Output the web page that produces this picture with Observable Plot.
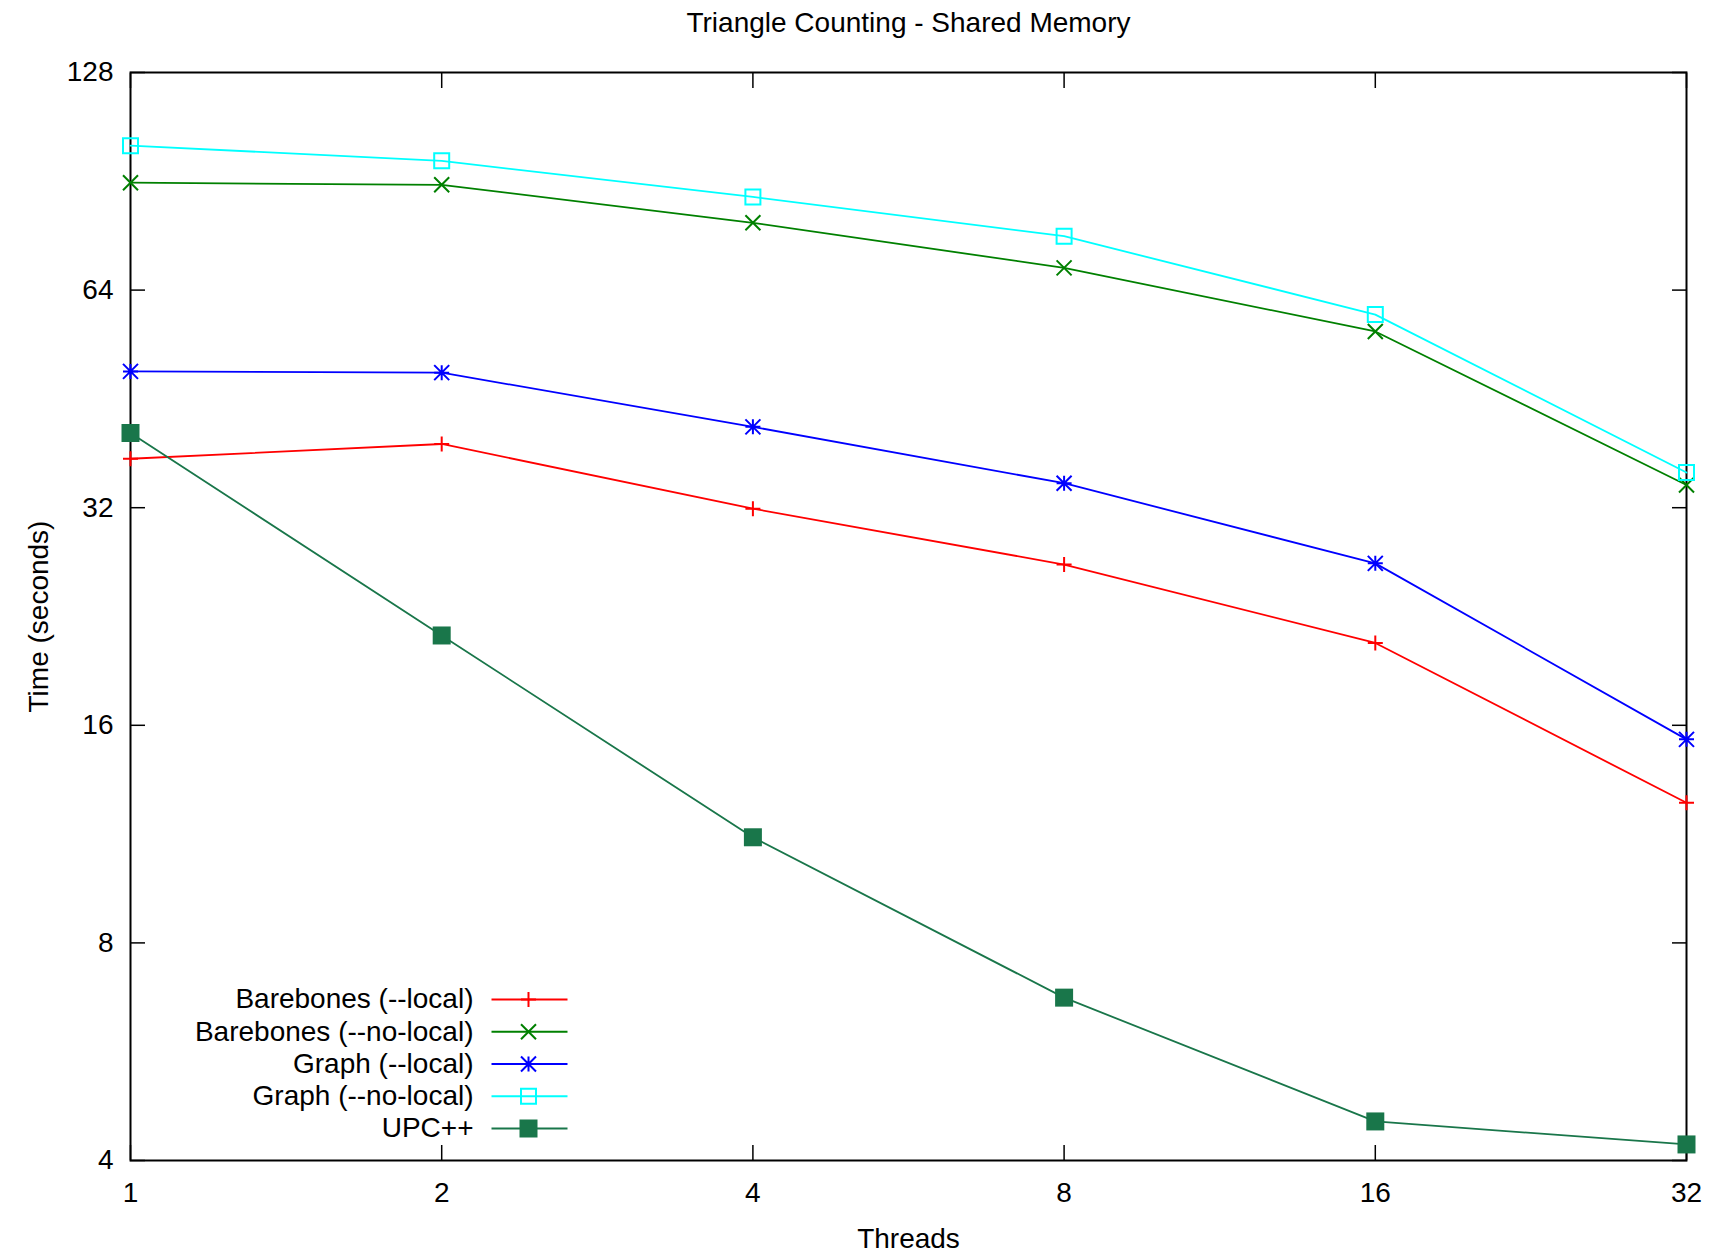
<!DOCTYPE html>
<html>
<head>
<meta charset="utf-8">
<script src="https://cdn.jsdelivr.net/npm/d3@7"></script>
<script src="https://cdn.jsdelivr.net/npm/@observablehq/plot@0.6"></script>
<style>
  html, body { margin: 0; padding: 0; background: #ffffff; }
  svg { display: block; }
</style>
</head>
<body>
<div id="chart"></div>
<script>
// ---- data ----
const titleText = "Triangle Counting - Shared Memory";
const xLabel = "Threads";
const yLabel = "Time (seconds)";
const threads = [1, 2, 4, 8, 16, 32];
const xTicks = [1, 2, 4, 8, 16, 32];
const yTicks = [4, 8, 16, 32, 64, 128];
const seriesNames = ["Barebones (--local)", "Barebones (--no-local)", "Graph (--local)", "Graph (--no-local)", "UPC++"];
const barebonesLocal   = [37.4, 39.2, 31.9, 26.7, 20.8, 12.5];
const barebonesNoLocal = [90.1, 89.5, 79.3, 68.7, 56.1, 34.4];
const graphLocal       = [49.4, 49.2, 41.4, 34.6, 26.8, 15.3];
const graphNoLocal     = [101.4, 96.6, 86.1, 76.0, 59.2, 35.8];
const upcxx            = [40.6, 21.3, 11.2, 6.72, 4.53, 4.21];

// ---- styles ----
const seriesValues = [barebonesLocal, barebonesNoLocal, graphLocal, graphNoLocal, upcxx];
const colors = ["#ff0000", "#008000", "#0000ff", "#00ffff", "#19764a"];

const H = 7.5; // half-size of stroke markers
const symPlus = {draw(c) { c.moveTo(-H, 0); c.lineTo(H, 0); c.moveTo(0, -H); c.lineTo(0, H); }};
const symTimes = {draw(c) { c.moveTo(-H, -H); c.lineTo(H, H); c.moveTo(-H, H); c.lineTo(H, -H); }};
const symStar = {draw(c) {
  c.moveTo(-H, 0); c.lineTo(H, 0); c.moveTo(0, -H); c.lineTo(0, H);
  c.moveTo(-H, -H); c.lineTo(H, H); c.moveTo(-H, H); c.lineTo(H, -H);
}};
const symOpenSquare = {draw(c) { c.rect(-7.5, -7.5, 15, 15); }};
const symFilledSquare = {draw(c) { c.rect(-9, -9, 18, 18); }};
const symLegendLine = {draw(c) { c.moveTo(-38, 0); c.lineTo(38, 0); }};

const markerStyles = [
  {symbol: symPlus, fill: "none"},
  {symbol: symTimes, fill: "none"},
  {symbol: symStar, fill: "none"},
  {symbol: symOpenSquare, fill: "none"},
  {symbol: symFilledSquare, filled: true}
];

const marks = [Plot.frame({stroke: "black", strokeWidth: 2})];

// axes: inward ticks on all four sides, labels on left/bottom
marks.push(
  Plot.axisY(yTicks, {anchor: "left", tickSize: -15, strokeWidth: 1.5, tickFormat: () => "", label: null}),
  Plot.axisY(yTicks, {anchor: "right", tickSize: -15, strokeWidth: 1.5, tickFormat: () => "", label: null}),
  Plot.axisX(xTicks, {anchor: "bottom", tickSize: -15, strokeWidth: 1.5, tickFormat: () => "", label: null}),
  Plot.axisX(xTicks, {anchor: "top", tickSize: -15, strokeWidth: 1.5, tickFormat: () => "", label: null}),
  Plot.axisY(yTicks, {anchor: "left", tickSize: 0, tickPadding: 17, tickFormat: d => String(d), label: null}),
  Plot.axisX(xTicks, {anchor: "bottom", tickSize: 0, tickPadding: 22, tickFormat: d => String(d), label: null})
);

// series
seriesValues.forEach((vals, i) => {
  const rows = threads.map((t, j) => ({threads: t, time: vals[j]}));
  const color = colors[i];
  const ms = markerStyles[i];
  marks.push(Plot.line(rows, {x: "threads", y: "time", stroke: color, strokeWidth: 1.8}));
  marks.push(Plot.dot(rows, {
    x: "threads", y: "time", symbol: ms.symbol,
    fill: ms.filled ? color : "none",
    stroke: ms.filled ? "none" : color,
    strokeWidth: 2
  }));
});

// legend (inside plot, lower left)
seriesNames.forEach((name, i) => {
  const dy = -161 + i * 32.25;
  const color = colors[i];
  const ms = markerStyles[i];
  marks.push(Plot.text([name], {text: d => d, frameAnchor: "bottom-left", dx: 343, dy, textAnchor: "end", lineAnchor: "middle", fill: "black"}));
  marks.push(Plot.dot([name], {frameAnchor: "bottom-left", dx: 399, dy, symbol: symLegendLine, stroke: color, fill: "none", strokeWidth: 1.8}));
  marks.push(Plot.dot([name], {
    frameAnchor: "bottom-left", dx: 398, dy, symbol: ms.symbol,
    fill: ms.filled ? color : "none",
    stroke: ms.filled ? "none" : color,
    strokeWidth: 2
  }));
});

// title and axis labels
marks.push(
  Plot.text([titleText], {text: d => d, frameAnchor: "top", dy: -49, lineAnchor: "middle", fontSize: 28, fill: "black"}),
  Plot.text([xLabel], {text: d => d, frameAnchor: "bottom", dy: 79, lineAnchor: "middle", fill: "black"}),
  Plot.text([yLabel], {text: d => d, frameAnchor: "left", dx: -91, rotate: -90, lineAnchor: "middle", textAnchor: "middle", fill: "black"})
);

const chart = Plot.plot({
  width: 1710,
  height: 1254,
  marginLeft: 130,
  marginRight: 24,
  marginTop: 72,
  marginBottom: 94,
  x: {type: "log", base: 2, domain: [1, 32]},
  y: {type: "log", base: 2, domain: [4, 128]},
  style: {fontFamily: "'Liberation Sans', Arial, sans-serif", fontSize: "28px", background: "#ffffff", color: "black"},
  marks
});
document.getElementById("chart").appendChild(chart);
</script>
</body>
</html>
